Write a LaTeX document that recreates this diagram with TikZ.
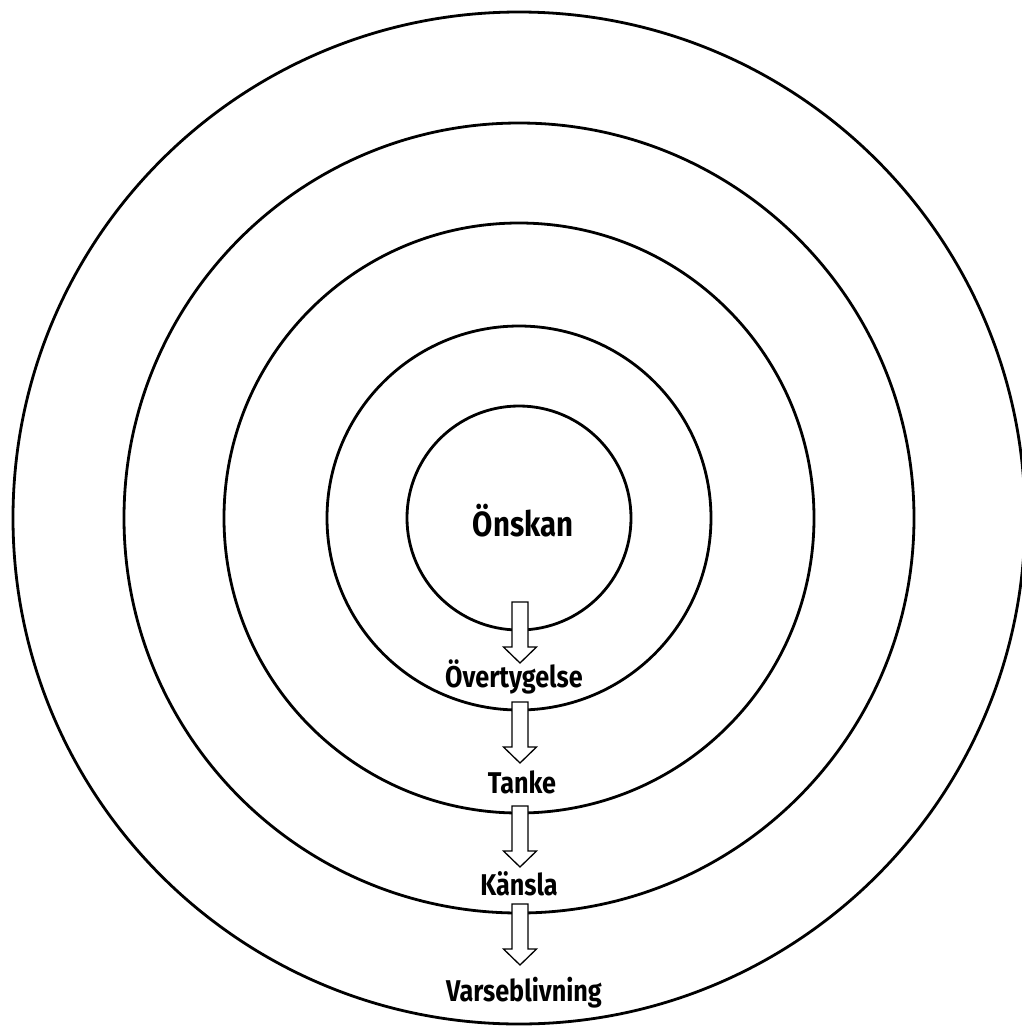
\documentclass[tikz,border=0pt]{standalone}
\usepackage{fontspec}
\newfontfamily\lbl{Fira Sans}[FakeStretch=0.84]
\begin{document}
\begin{tikzpicture}[x=1pt,y=-1pt,
  ring/.style={draw, line width=2.8pt},
  lab/.style={font=\lbl\bfseries\fontsize{30}{30}\selectfont, inner sep=0pt},
  biglab/.style={font=\lbl\bfseries\fontsize{35}{35}\selectfont, inner sep=0pt},
  blockarrow/.style={draw, fill=white, line width=1.3pt, line join=miter},
  hollowdown/.pic={\draw[blockarrow] (-8,0) -- (-8,45) -- (-16.5,45) -- (0,61) -- (16.5,45) -- (8,45) -- (8,0) -- cycle;}]
\useasboundingbox (0,0) rectangle (1022,1026);
\coordinate (c) at (519,518);
\draw[ring] (c) circle[radius=506pt];
\draw[ring] (c) circle[radius=395pt];
\draw[ring] (c) circle[radius=295pt];
\draw[ring] (c) circle[radius=192pt];
\draw[ring] (c) circle[radius=112pt];
\coordinate (a1) at (520,602);
\coordinate (a2) at (520,702);
\coordinate (a3) at (520,806);
\coordinate (a4) at (520,904);
\pic at (a1) {hollowdown};
\pic at (a2) {hollowdown};
\pic at (a3) {hollowdown};
\pic at (a4) {hollowdown};
\node[biglab] (onskan) at (523,521) {Önskan};
\node[lab] (overt) at (514,677) {Övertygelse};
\node[lab] (tanke) at (522,782) {Tanke};
\node[lab] (kansla) at (519,884) {Känsla};
\node[lab] (varse) at (524,993) {Varseblivning};
\end{tikzpicture}
\end{document}
